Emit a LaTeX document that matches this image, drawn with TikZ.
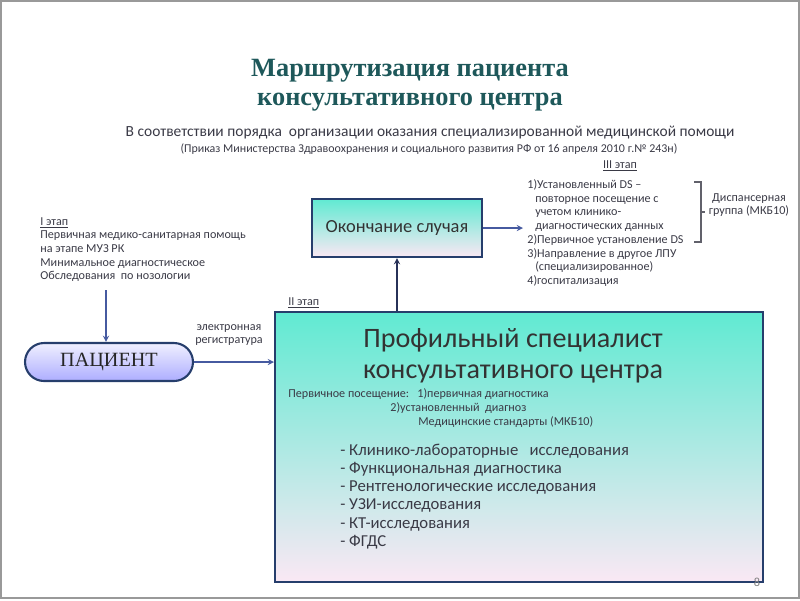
\documentclass[tikz,border=0pt]{standalone}
\usepackage{fontspec}
\setmainfont{Carlito}
\newfontfamily\titlefont{Liberation Serif}
\usetikzlibrary{calc}
\definecolor{titleteal}{RGB}{30,88,90}
\definecolor{boxborder}{RGB}{38,62,108}
\definecolor{txtgray}{RGB}{58,58,70}
\definecolor{arrowblue}{RGB}{70,90,160}
\definecolor{aqua}{RGB}{96,234,210}
\definecolor{skyblue}{RGB}{128,188,244}
\definecolor{pinkish}{RGB}{250,232,244}

\begin{document}
\begin{tikzpicture}[x=0.02cm, y=-0.02cm,
    smalltxt/.style={font=\fontsize{6.9}{7.8}\selectfont, text=txtgray, align=left, inner sep=0pt},
    flowbox/.style={draw=boxborder, line width=1.2pt, top color=aqua, middle color=skyblue, bottom color=pinkish},
    flowarrow/.style={->, >=stealth, arrowblue, line width=0.6pt}]
    \useasboundingbox (0,0) rectangle (800,600);
    \draw[gray!80, line width=1.2pt] (1,1) rectangle (799,598);
    % title
    \node (title) at (410,85) [font=\titlefont\bfseries\fontsize{15}{16.5}\selectfont, text=titleteal, align=center] {Маршрутизация пациента\\консультативного центра};
    \node (sub) at (430,133) [font=\fontsize{8.8}{10}\selectfont, text=txtgray] {В соответствии порядка\ \ организации оказания специализированной медицинской помощи};
    \node (order) at (429,149) [font=\fontsize{6.8}{8}\selectfont, text=txtgray] {(Приказ Министерства Здравоохранения и социального развития РФ от 16 апреля 2010 г.№ 243н)};
    % stage I
    \node (stage1) at (40,249.5) [smalltxt, anchor=west] {\underline{I этап}\\Первичная медико-санитарная помощь\\на этапе МУЗ РК\\Минимальное диагностическое\\Обследования\ \ по нозологии};
    \node (patient) at (109,362) [draw=boxborder, line width=1.2pt, rounded corners=0.38cm, minimum width=3.36cm, minimum height=0.76cm, top color=blue!6, bottom color=blue!32!white, font=\titlefont\fontsize{11.5}{12}\selectfont, text=black!85] {ПАЦИЕНТ};
    \coordinate (s1) at (106,290);
    \draw[flowarrow] (s1) -- (s1 |- patient.north);
    \node (reg) at (229,335) [smalltxt, align=center] {электронная\\регистратура};
    % stage II
    \node (stage2) at (288,303) [smalltxt, anchor=west] {\underline{II этап}};
    \node (spec) at (519,447) [flowbox, minimum width=9.76cm, minimum height=5.4cm] {};
    \node (spechead) at (513,356) [font=\fontsize{16}{17.5}\selectfont, text=black!80, align=center] {Профильный специалист\\консультативного центра};
    \node (visit1) at (288,394) [smalltxt, anchor=west] {Первичное посещение:\ \ \ 1)первичная диагностика};
    \node (visit2) at (390,408) [smalltxt, anchor=west] {2)установленный\ \ диагноз};
    \node (visit3) at (418,422) [smalltxt, anchor=west] {Медицинские стандарты (МКБ10)};
    \node (exams) at (340,496.5) [font=\fontsize{9.5}{10.3}\selectfont, text=txtgray, align=left, inner sep=0pt, anchor=west] {- Клинико-лабораторные\ \ \ исследования\\- Функциональная диагностика\\- Рентгенологические исследования\\- УЗИ-исследования\\- КТ-исследования\\- ФГДС};
    \draw[flowarrow] (patient.east) -- (patient.east -| spec.west);
    % stage III
    \node (end) at (397,228) [flowbox, minimum width=3.4cm, minimum height=1.16cm, font=\fontsize{10.5}{12}\selectfont, text=black!80] {Окончание случая};
    \draw[flowarrow, black!45!arrowblue] (end.south |- spec.north) -- (end.south);
    \node (stage3) at (620,166) [smalltxt] {\underline{III этап}};
    \node (outcome) at (527,233) [smalltxt, anchor=west] {1)Установленный DS --\\\hspace*{4.5pt}повторное посещение с\\\hspace*{4.5pt}учетом клинико-\\\hspace*{4.5pt}диагностических данных\\2)Первичное установление DS\\3)Направление в другое ЛПУ\\\hspace*{4.5pt}(специализированное)\\4)госпитализация};
    \coordinate (lst) at (523,224);
    \draw[flowarrow] (end.east) -- (end.east -| lst);
    \draw[txtgray!80, line width=0.6pt] (694,182) -- (701,182) -- (701,242) -- (694,242);
    \draw[txtgray!80, line width=0.6pt] (701,212) -- (705,212);
    \node (disp) at (749,205) [smalltxt, align=center] {Диспансерная\\группа (МКБ10)};
    \node (page) at (757,582) [font=\fontsize{7}{8}\selectfont, text=gray] {8};
\end{tikzpicture}
\end{document}
